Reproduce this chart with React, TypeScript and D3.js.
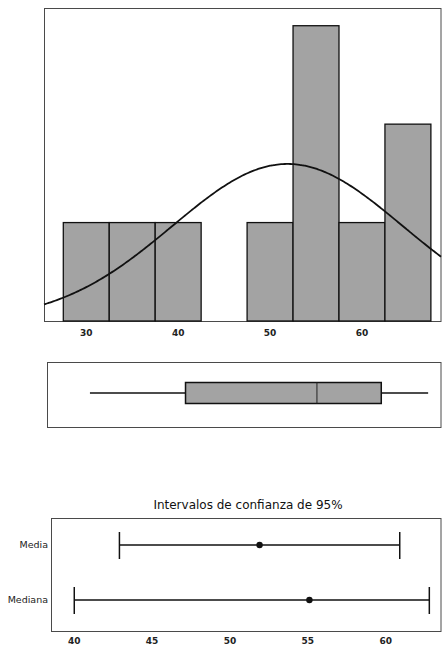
import { useEffect, useRef } from "react";
import * as d3 from "d3";

// histogram bins (midpoints) and counts
const binMids = [30, 35, 40, 45, 50, 55, 60, 65];
const binCounts = [1, 1, 1, 0, 1, 3, 1, 2];
const binWidth = 5;
const histTicks = [30, 40, 50, 60];

// fitted normal curve
const fitMean = 51.9;
const fitSd = 12.5;
const sampleN = 10;

// boxplot: min, q1, median, q3, max
const boxStats = [30.4, 40.8, 55.1, 62.1, 67.2];

// 95% confidence intervals: [low, estimate, high]
const ciLabels = ["Media", "Mediana"];
const ciValues = [
    [42.9, 51.9, 60.9],
    [40.0, 55.1, 62.8],
];
const ciTicks = [40, 45, 50, 55, 60];
const ciTitle = "Intervalos de confianza de 95%";

const W = 442;
const H = 649;
const FILL = "#a3a3a3";
const FRAME = "#4a4a4a";

function App() {
    const svgRef = useRef<SVGSVGElement | null>(null);

    useEffect(() => {
        const svg = d3.select(svgRef.current);
        svg.selectAll("*").remove();
        svg.style("font-family", "'DejaVu Sans', sans-serif");

        // shared x scale for histogram + boxplot
        const x = d3.scaleLinear().domain([25.4, 68.6]).range([44, 441]);

        // 1) histogram panel
        const hTop = 8;
        const hBottom = 321;
        const y = d3.scaleLinear().domain([0, 3.18]).range([hBottom, hTop]);

        const hist = svg.append("g");
        hist.append("rect")
            .attr("x", 44.5).attr("y", hTop + 0.5)
            .attr("width", 441 - 44.5).attr("height", hBottom - hTop)
            .attr("fill", "white").attr("stroke", FRAME).attr("stroke-width", 1);

        const bins = binMids.map((m, i) => ({ x0: m - binWidth / 2, x1: m + binWidth / 2, n: binCounts[i] }));
        hist.selectAll("rect.bar")
            .data(bins.filter((d) => d.n > 0))
            .enter()
            .append("rect")
            .attr("class", "bar")
            .attr("x", (d) => x(d.x0))
            .attr("y", (d) => y(d.n))
            .attr("width", (d) => x(d.x1) - x(d.x0))
            .attr("height", (d) => y(0) - y(d.n))
            .attr("fill", FILL)
            .attr("stroke", "#111")
            .attr("stroke-width", 1.3);

        // normal fit curve
        const pdf = (v: number) =>
            (sampleN * binWidth) / (fitSd * Math.sqrt(2 * Math.PI)) *
            Math.exp(-0.5 * ((v - fitMean) / fitSd) ** 2);
        const xs = d3.range(25.4, 68.61, 0.2);
        const line = d3.line<number>().x((v) => x(v)).y((v) => y(pdf(v))).curve(d3.curveBasis);
        hist.append("path")
            .datum(xs)
            .attr("d", line)
            .attr("fill", "none")
            .attr("stroke", "#111")
            .attr("stroke-width", 1.8);

        // x axis labels (no tick marks)
        hist.selectAll("text.tick")
            .data(histTicks)
            .enter()
            .append("text")
            .attr("x", (d) => x(d))
            .attr("y", 336)
            .attr("text-anchor", "middle")
            .attr("font-size", 9)
            .attr("font-weight", "bold")
            .attr("fill", "#222")
            .text((d) => d);

        // 2) boxplot panel
        const bTop = 362;
        const bBottom = 427;
        const box = svg.append("g");
        box.append("rect")
            .attr("x", 47.5).attr("y", bTop + 0.5)
            .attr("width", 441 - 47.5).attr("height", bBottom - bTop)
            .attr("fill", "white").attr("stroke", FRAME).attr("stroke-width", 1);
        const [mn, q1, med, q3, mx] = boxStats;
        const bMid = 393;
        box.append("line").attr("x1", x(mn)).attr("x2", x(q1)).attr("y1", bMid).attr("y2", bMid)
            .attr("stroke", "#111").attr("stroke-width", 1.3);
        box.append("line").attr("x1", x(q3)).attr("x2", x(mx)).attr("y1", bMid).attr("y2", bMid)
            .attr("stroke", "#111").attr("stroke-width", 1.3);
        box.append("rect")
            .attr("x", x(q1)).attr("y", 382.5)
            .attr("width", x(q3) - x(q1)).attr("height", 21)
            .attr("fill", FILL).attr("stroke", "#111").attr("stroke-width", 1.5);
        box.append("line").attr("x1", x(med)).attr("x2", x(med)).attr("y1", 382.5).attr("y2", 403.5)
            .attr("stroke", "#222").attr("stroke-width", 1);

        // 3) confidence interval panel
        const cx = d3.scaleLinear().domain([38.57, 63.55]).range([52, 441]);
        const cTop = 518;
        const cBottom = 631;
        const cy = d3.scalePoint<string>().domain(ciLabels).range([545, 600]);
        const ci = svg.append("g");
        ci.append("text")
            .attr("x", 248).attr("y", 509)
            .attr("text-anchor", "middle")
            .attr("font-size", 12)
            .attr("fill", "#111")
            .text(ciTitle);
        ci.append("rect")
            .attr("x", 51.5).attr("y", cTop + 0.5)
            .attr("width", 441 - 51.5).attr("height", cBottom - cTop)
            .attr("fill", "white").attr("stroke", FRAME).attr("stroke-width", 1);

        const rows = ci.selectAll("g.row")
            .data(ciLabels.map((l, i) => ({ label: l, v: ciValues[i] })))
            .enter()
            .append("g")
            .attr("class", "row")
            .attr("transform", (d) => `translate(0, ${cy(d.label) ?? 0})`);
        rows.append("line")
            .attr("x1", (d) => cx(d.v[0])).attr("x2", (d) => cx(d.v[2]))
            .attr("stroke", "#111").attr("stroke-width", 1.5);
        rows.append("line")
            .attr("x1", (d) => cx(d.v[0])).attr("x2", (d) => cx(d.v[0]))
            .attr("y1", -13).attr("y2", 14)
            .attr("stroke", "#111").attr("stroke-width", 1.5);
        rows.append("line")
            .attr("x1", (d) => cx(d.v[2])).attr("x2", (d) => cx(d.v[2]))
            .attr("y1", -13).attr("y2", 14)
            .attr("stroke", "#111").attr("stroke-width", 1.5);
        rows.append("circle")
            .attr("cx", (d) => cx(d.v[1]))
            .attr("r", 3.2)
            .attr("fill", "#111");
        rows.append("text")
            .attr("x", 48)
            .attr("dy", "0.35em")
            .attr("text-anchor", "end")
            .attr("font-size", 9.5)
            .attr("fill", "#222")
            .text((d) => d.label);

        ci.selectAll("text.tick")
            .data(ciTicks)
            .enter()
            .append("text")
            .attr("x", (d) => cx(d))
            .attr("y", 644)
            .attr("text-anchor", "middle")
            .attr("font-size", 9)
            .attr("font-weight", "bold")
            .attr("fill", "#222")
            .text((d) => d);
    }, []);

    return (
        <svg
            ref={svgRef}
            width={W}
            height={H}
            style={{ position: "absolute", left: 0, top: 0, background: "white" }}
        />
    );
}

export default App;
